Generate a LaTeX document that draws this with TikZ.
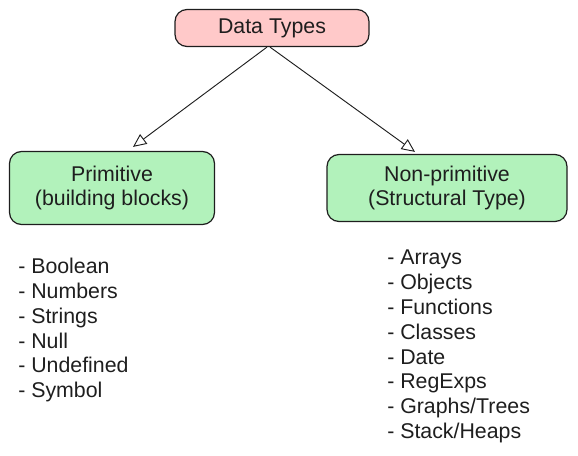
\documentclass[tikz,border=0pt]{standalone}
\usepackage{fontspec}
\setmainfont{Liberation Sans}
\usetikzlibrary{arrows.meta,calc}
\definecolor{sketchink}{RGB}{30,30,30}
\definecolor{rootpink}{RGB}{255,201,201}
\definecolor{leafgreen}{RGB}{178,242,187}

\begin{document}
\begin{tikzpicture}[x=0.75pt,y=-0.75pt,
 box/.style={draw=sketchink,line width=0.9pt,rounded corners=9pt,align=center,inner sep=0pt,text=sketchink,font=\fontsize{16}{18.6}\selectfont},
 arr/.style={-{Triangle[open,length=10pt,width=9pt]},draw=sketchink,line width=0.7pt},
 items/.style={align=left,anchor=north west,inner sep=0pt,text=sketchink,font=\fontsize{16}{18.6}\selectfont}]
\useasboundingbox (0,0) rectangle (578,456);
\node[box, fill=rootpink, minimum width=194*0.75pt, minimum height=37*0.75pt] (dtypes) at (272,28) {Data Types};
\node[box, fill=leafgreen, minimum width=205*0.75pt, minimum height=73*0.75pt] (prim) at (112,188) {Primitive\\(building blocks)};
\node[box, fill=leafgreen, minimum width=240*0.75pt, minimum height=67*0.75pt] (nonprim) at (447,188) {Non-primitive\\(Structural Type)};
\node[items] (primlist) at (18,258) {- Boolean\\- Numbers\\- Strings\\- Null\\- Undefined\\- Symbol};
\node[items] (nonlist) at (387,250) {- Arrays\\- Objects\\- Functions\\- Classes\\- Date\\- RegExps\\- Graphs/Trees\\- Stack/Heaps};
\draw[arr] ($(dtypes.south)+(-5,0)$)--($(prim.north)+(21,-4)$);
\draw[arr] ($(dtypes.south)+(-2,0)$)--($(nonprim.north)+(-32,-2)$);
\end{tikzpicture}
\end{document}
